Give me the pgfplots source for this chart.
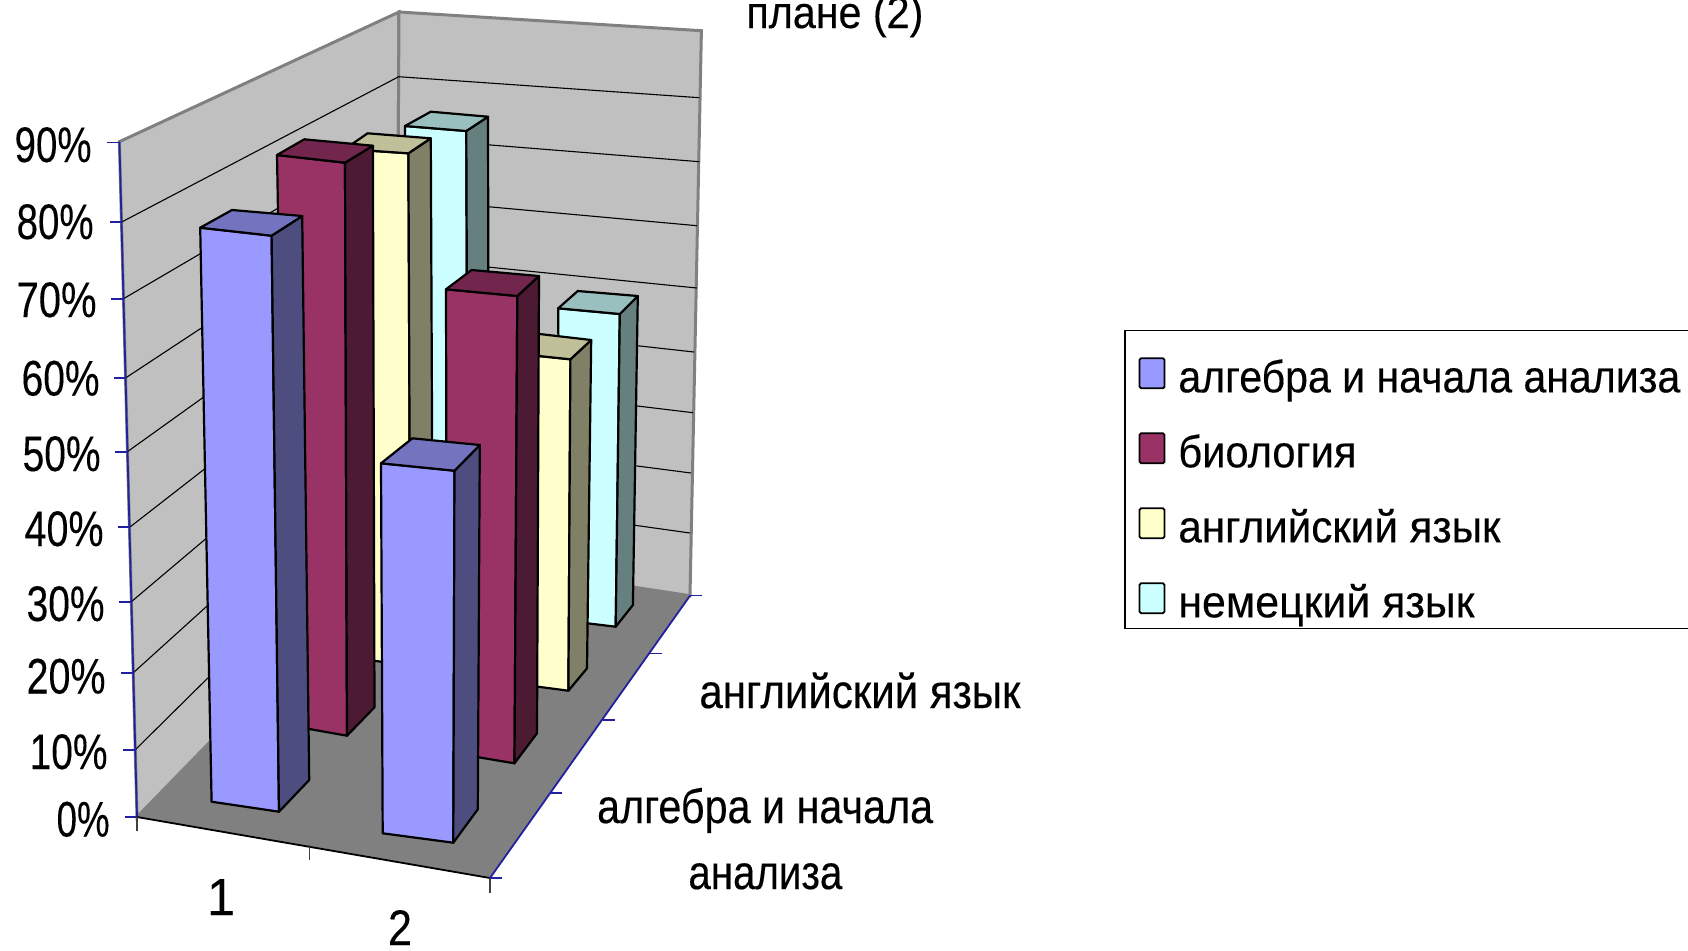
\documentclass[border=0pt]{standalone}
\usepackage{fontspec}
\setmainfont[FakeBold=0.25]{Liberation Sans}
\usepackage{graphicx}
\usepackage{pgfplots}
\pgfplotsset{compat=1.18}
\definecolor{wall}{HTML}{C0C0C0}
\definecolor{floorc}{HTML}{808080}
\definecolor{axisblue}{HTML}{2020A0}
\definecolor{alg}{HTML}{9999FF}\definecolor{algS}{HTML}{4D4D80}\definecolor{algT}{HTML}{7373BF}
\definecolor{bio}{HTML}{993366}\definecolor{bioS}{HTML}{4D1A33}\definecolor{bioT}{HTML}{73264D}
\definecolor{eng}{HTML}{FFFFCC}\definecolor{engS}{HTML}{808066}\definecolor{engT}{HTML}{BFBF99}
\definecolor{ger}{HTML}{CCFFFF}\definecolor{gerS}{HTML}{668080}\definecolor{gerT}{HTML}{99BFBF}
% text of a given width (pixels) and font size (pixels)
\newcommand\lab[3]{\resizebox{\dimexpr#1pt/2\relax}{\height}{\fontsize{\dimexpr#2pt/2\relax}{\dimexpr#2pt/2\relax}\selectfont #3}}
\newcommand\poly[2]{\addplot[#1,no marks,forget plot] coordinates {#2} -- cycle;}
% bar: colour stem, then top fl fr br bl, then bottom fl fr br
\newcommand\cuboid[8]{%
  \poly{draw=black,line width=1.1pt,line join=round,fill=#1}{#2#3#7#6}
  \poly{draw=black,line width=1.1pt,line join=round,fill=#1S}{#3#4#8#7}
  \poly{draw=black,line width=1.1pt,line join=round,fill=#1T}{#2#3#4#5}
}
\begin{document}
\begin{tikzpicture}
\useasboundingbox (0,0) rectangle (844pt,475pt);
\clip (0,0) rectangle (844pt,475pt);
\begin{axis}[at={(0,0)},anchor=south west,width=844pt,height=475pt,scale only axis,
  xmin=0,xmax=1688,ymin=0,ymax=950,y dir=reverse,hide axis,clip=false,
  legend image code/.code={\draw[#1,draw=black,line width=0.9pt,rounded corners=0.8pt] (0pt,2pt) rectangle (12.5pt,17pt);},
  legend cell align=left,
  legend style={at={(axis cs:1124.4,330)},anchor=north west,draw=black,line width=0.6pt,fill=white,
    inner sep=0pt,inner xsep=6.8pt,inner ysep=1.65pt,row sep=4.3pt,column sep=0pt,
    nodes={inner sep=0pt,text height=29.2pt,text depth=4pt,anchor=base west}}]
% walls and floor
\poly{fill=wall,draw=floorc,line width=1.5pt}{(119.4,141.7)(399,12)(396,551)(137,817)}
\poly{fill=wall,draw=floorc,line width=1.5pt}{(399,12)(701.4,30.7)(690,595.7)(396,551)}
\poly{fill=floorc,draw=none}{(137,817)(396,551)(690,595.7)(490,878)}
% gridlines, 10% to 80%
\foreach \a/\b/\c/\d/\e/\f in {
  135/750/396.3/491.7/690/533, 133/673/396.6/434.6/691/473, 131/602/397/377/693/412.7,
  130/527/397.3/319/694/352, 127/452/397.6/258/697/288, 125.5/378/398/198.5/697/225.7,
  123/299/398.4/137.6/699.4/161.7, 121.7/222/398.7/76.7/699.4/97.7}{
  \edef\tmp{\noexpand\addplot[black,line width=0.55pt,no marks,forget plot] coordinates {(\a,\b)(\c,\d)(\e,\f)};}\tmp
}
% axis lines and ticks
\addplot[axisblue,line width=0.9pt,no marks,forget plot] coordinates {(119.4,141.7)(137,817)};
\addplot[black,line width=0.9pt,no marks,forget plot] coordinates {(137,817)(490,878)};
\addplot[axisblue,line width=0.9pt,no marks,forget plot] coordinates {(490,878)(690,595.7)};
\foreach \x/\y in {119.4/142.5,121.7/222,123/299,125.5/378,127/452,130/527,131/602,133/673,135/750,137/817}{
  \edef\tmp{\noexpand\addplot[axisblue,line width=0.7pt,no marks,forget plot] coordinates {(\x-12,\y)(\x,\y)};}\tmp
}
\addplot[floorc!50!black,line width=0.7pt,no marks,forget plot] coordinates {(137,817)(137,831)};
\addplot[floorc!50!black,line width=0.7pt,no marks,forget plot] coordinates {(309.6,845)(309.6,860)};
\addplot[floorc!50!black,line width=0.7pt,no marks,forget plot] coordinates {(490,878)(490,893)};
\foreach \x/\y in {690/595.7,650/653.3,603.3/720,550/793,490/878}{
  \edef\tmp{\noexpand\addplot[axisblue,line width=0.7pt,no marks,forget plot] coordinates {(\x,\y)(\x+12,\y)};}\tmp
}
% bars as seen on the plot, back row first: top corners fl fr br bl, then floor corners fl fr br
\cuboid{ger}{(405,126)}{(466.3,131)}{(488,116.7)}{(430.8,111.7)}{(407,610)}{(468,618)}{(489,600)}
\cuboid{ger}{(558.2,308.3)}{(619.8,314)}{(637.8,296)}{(577.8,291)}{(560,620)}{(615.7,626.7)}{(632.9,605)}
\cuboid{eng}{(345,149)}{(408.4,153.3)}{(430.8,138.3)}{(367.6,133.3)}{(349,657)}{(410.5,666)}{(433,645)}
\cuboid{eng}{(510,353)}{(570.4,359.3)}{(591.2,340)}{(531,333)}{(510,683)}{(568.4,690.7)}{(587,668.3)}
\cuboid{bio}{(277,155)}{(345,162.7)}{(372.9,145.7)}{(304.3,139.3)}{(287,725)}{(347,735.7)}{(374.5,707.3)}
\cuboid{bio}{(446,289.3)}{(517.3,296)}{(539,276)}{(471.6,270)}{(447,752)}{(514.5,763.3)}{(537,733.3)}
\cuboid{alg}{(200.2,227.7)}{(271.6,235.7)}{(302.2,216)}{(232,210)}{(211.6,801.7)}{(279,811.7)}{(309.2,780)}
\cuboid{alg}{(381,463.3)}{(454.5,470.7)}{(479.8,445)}{(412.4,438.3)}{(382.7,833.3)}{(453.3,842.7)}{(477.8,809.3)}
% legend
\addlegendimage{fill=alg}\addlegendentry{\hspace{6.5pt}\lab{502}{45}{алгебра и начала анализа}}
\addlegendimage{fill=bio}\addlegendentry{\hspace{6.5pt}\lab{178}{45}{биология}}
\addlegendimage{fill=eng}\addlegendentry{\hspace{6.5pt}\lab{322}{45}{английский язык}}
\addlegendimage{fill=ger}\addlegendentry{\hspace{6.5pt}\lab{296}{45}{немецкий язык}}
% tick labels
\foreach \t/\x/\y/\w in {90\%/92/162/77,80\%/94/239/77,70\%/97/317/80,60\%/100/395.5/78,50\%/101/471/78,
  40\%/104/546/79,30\%/105/621/78,20\%/106/693.5/79,10\%/108/769/78,0\%/110/836.5/53}{
  \edef\tmp{\noexpand\node[anchor=base east,inner sep=0pt] at (axis cs:\x,\y) {\noexpand\lab{\w}{50}{\t}};}\tmp
}
\node[anchor=base,inner sep=0pt] at (axis cs:221,915) {\lab{28}{52}{1}};
\node[anchor=base,inner sep=0pt] at (axis cs:400,945) {\lab{24}{50}{2}};
\node[anchor=base west,inner sep=0pt] at (axis cs:699,708) {\lab{321}{48}{английский язык}};
\node[anchor=base west,inner sep=0pt] at (axis cs:596.7,823) {\lab{336}{48}{алгебра и начала}};
\node[anchor=base west,inner sep=0pt] at (axis cs:688,889) {\lab{154}{48}{анализа}};
\node[anchor=base west,inner sep=0pt] at (axis cs:746,28) {\lab{177}{45}{плане (2)}};
\end{axis}
\end{tikzpicture}
\end{document}
